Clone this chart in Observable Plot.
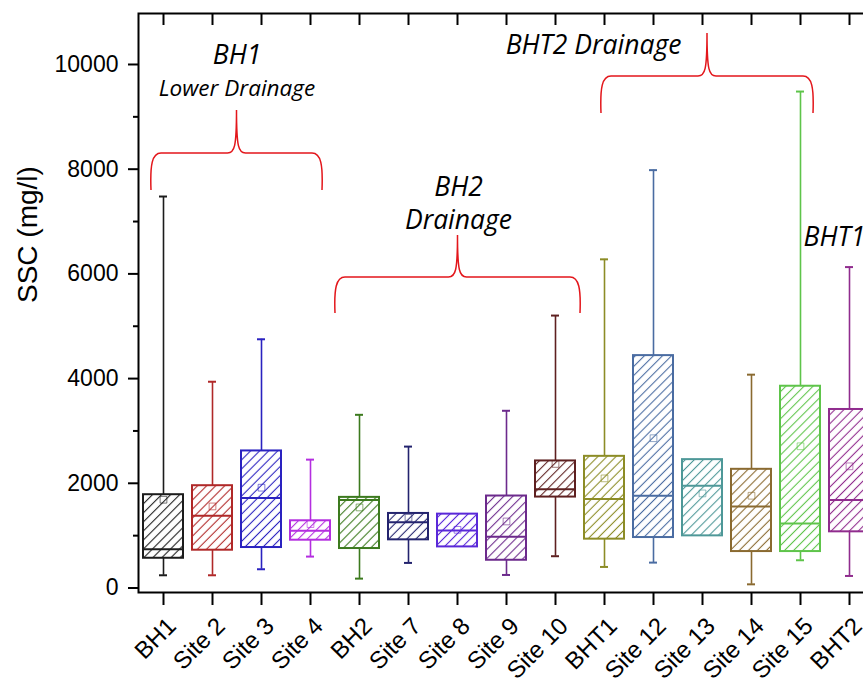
<!DOCTYPE html>
<html><head><meta charset="utf-8">
<script src="https://cdn.jsdelivr.net/npm/d3@7"></script>
<script src="https://cdn.jsdelivr.net/npm/@observablehq/plot@0.6"></script>
<style>
html,body{margin:0;padding:0;background:#fff;overflow:hidden}
#chart{width:863px;height:681px;overflow:hidden;position:relative}
#chart svg{overflow:hidden}
</style></head><body>
<svg id="defs" width="0" height="0" style="position:absolute"><defs></defs></svg>
<div id="chart"></div>
<script>
// ---- data ----
const sites = ["BH1","Site 2","Site 3","Site 4","BH2","Site 7","Site 8","Site 9","Site 10","BHT1","Site 12","Site 13","Site 14","Site 15","BHT2"];
const colors = ["#1c1c1c","#b02828","#2a22c0","#b42ee0","#3c7a1e","#23236e","#5a28d8","#6c2a8c","#5e2020","#8c8c26","#4a6ca2","#4e9898","#8a6a30","#5ec44a","#902c8e"];
const whiskerLow  = [243, 243, 358, 600, 179, 479, 785, 249, 607, 402, 485, 996, 70, 530, 230];
const q1          = [568, 722, 773, 913, 754, 920, 785, 530, 1737, 933, 964, 996, 696, 696, 1073];
const median      = [741, 1379, 1718, 1092, 1680, 1258, 1098, 977, 1884, 1699, 1762, 1954, 1558, 1232, 1680];
const q3          = [1782, 1954, 2618, 1284, 1731, 1424, 1411, 1757, 2427, 2515, 4439, 2452, 2267, 3854, 3410];
const whiskerHigh = [7478, 3940, 4751, 2452, 3308, 2701, 1411, 3385, 5204, 6278, 7982, 2452, 4075, 9483, 6130];
const mean        = [1686, 1558, 1916, 1220, 1539, 1341, 1111, 1271, 2370, 2094, 2861, 1807, 1762, 2707, 2324];

const yMajorTicks = [0, 2000, 4000, 6000, 8000, 10000];
const yMinorTicks = [1000, 3000, 5000, 7000, 9000];
const yDomain = [-86, 10974];

// group braces (from category, to category, values of end, bar and tip)
const braceFrom = ["BH1", "BH2", "BHT1"];
const braceTo   = ["Site 4", "Site 10", "Site 15"];
const braceEnd  = [7593, 5243, 9064];
const braceBar  = [8300, 5931, 9771];
const braceTip  = [9121, 6734, 10592];
const braceOffL = [-12, -24, -3];
const braceOffR = [12, 25, 13];

// annotations
const noteText = ["BH1", "Lower Drainage", "BH2", "Drainage", "BHT2 Drainage", "BHT1"];
const noteSite = ["Site 2", "Site 2", "Site 8", "Site 8", "BHT1", "Site 15"];
const noteY    = [10172, 9542, 7650, 7020, 10363, 6695];
const noteDx   = [24.5, 24.5, 1, 1, -11, 3];
const noteSize = [26.5, 22.5, 26.5, 26.5, 26.5, 26.5];
const noteAnchor = ["middle","middle","middle","middle","middle","start"];

// ---- hatch patterns ----
const ns = "http://www.w3.org/2000/svg";
const defs = document.querySelector("#defs defs");
colors.forEach((c, i) => {
  const p = document.createElementNS(ns, "pattern");
  p.setAttribute("id", "hatch" + i);
  p.setAttribute("patternUnits", "userSpaceOnUse");
  p.setAttribute("width", "6.4");
  p.setAttribute("height", "6.4");
  p.setAttribute("patternTransform", "rotate(45)");
  const l = document.createElementNS(ns, "line");
  l.setAttribute("x1", "3.2"); l.setAttribute("x2", "3.2");
  l.setAttribute("y1", "-1"); l.setAttribute("y2", "7.4");
  l.setAttribute("stroke", c); l.setAttribute("stroke-width", "1.1");
  p.appendChild(l);
  defs.appendChild(p);
});

const table = sites.map((site, i) => ({
  site, color: colors[i], hatch: `url(#hatch${i})`,
  lo: whiskerLow[i], q1: q1[i], med: median[i], q3: q3[i], hi: whiskerHigh[i], mean: mean[i]
}));
const upper = table.filter(d => d.hi > d.q3);
const lower = table.filter(d => d.lo < d.q1);
const notes = noteText.map((t, i) => ({t, site: noteSite[i], y: noteY[i], dx: noteDx[i], size: noteSize[i], anchor: noteAnchor[i]}));
const braces = braceFrom.map((f, i) => ({from: f, to: braceTo[i], end: braceEnd[i], bar: braceBar[i], tip: braceTip[i], offL: braceOffL[i], offR: braceOffR[i]}));

function braceMark(index, scales) {
  const g = document.createElementNS(ns, "g");
  const sx = scales.x, sy = scales.y;
  const bw = typeof sx.bandwidth === "function" ? sx.bandwidth() : 0;
  const cx = s => sx(s) + bw / 2;
  for (const b of braces) {
    const xL = cx(b.from) + b.offL, xR = cx(b.to) + b.offR, xm = (xL + xR) / 2;
    const yb = sy(b.end), yh = sy(b.bar), yt = sy(b.tip);
    const d = `M${xL},${yb} C${xL - 1},${yh + 12} ${xL + 1},${yh} ${xL + 10},${yh}`
      + ` L${xm - 9},${yh} C${xm - 2},${yh} ${xm},${yh - 6} ${xm},${yt}`
      + ` C${xm},${yh - 6} ${xm + 2},${yh} ${xm + 9},${yh}`
      + ` L${xR - 10},${yh} C${xR - 1},${yh} ${xR + 1},${yh + 12} ${xR},${yb}`;
    const p = document.createElementNS(ns, "path");
    p.setAttribute("d", d);
    p.setAttribute("fill", "none");
    p.setAttribute("stroke", "#e3161b");
    p.setAttribute("stroke-width", "1.5");
    g.appendChild(p);
  }
  return g;
}

const chart = Plot.plot({
  width: 863,
  height: 681,
  marginLeft: 138,
  marginRight: 0,
  marginTop: 13,
  marginBottom: 89,
  style: {fontFamily: "'Liberation Sans', Arial, sans-serif", background: "white", color: "black", overflow: "hidden"},
  x: {type: "band", domain: sites, range: [138.2, 873.2], paddingInner: 0.18, paddingOuter: 0.09, axis: null, label: null},
  y: {domain: yDomain, axis: null, label: null},
  color: {type: "identity"},
  marks: [
    Plot.frame({stroke: "black", strokeWidth: 2, insetRight: -10}),
    Plot.ruleX(sites, {x: d => d, insetBottom: 567, stroke: "black", strokeWidth: 2}),
    Plot.axisY({ticks: yMajorTicks, tickSize: 10, tickPadding: 10, tickFormat: "d", fontSize: 23, strokeWidth: 2, label: null}),
    Plot.axisY({ticks: yMinorTicks, tickSize: 5, tickFormat: () => "", strokeWidth: 2, label: null}),
    Plot.axisX({anchor: "bottom", tickSize: 13, tickFormat: () => "", strokeWidth: 2, label: null}),
    Plot.text(sites, {x: d => d, frameAnchor: "bottom", rotate: -45, textAnchor: "end", dx: 14, dy: 35, fontSize: 24}),
    Plot.text(["SSC (mg/l)"], {frameAnchor: "left", rotate: -90, dx: -110, fontSize: 28}),
    Plot.ruleX(upper, {x: "site", y1: "q3", y2: "hi", stroke: "color", strokeWidth: 1.6}),
    Plot.ruleX(lower, {x: "site", y1: "lo", y2: "q1", stroke: "color", strokeWidth: 1.6}),
    Plot.tickY(upper, {x: "site", y: "hi", stroke: "color", strokeWidth: 2, insetLeft: 16, insetRight: 16}),
    Plot.tickY(lower, {x: "site", y: "lo", stroke: "color", strokeWidth: 2, insetLeft: 16, insetRight: 16}),
    Plot.barY(table, {x: "site", y1: "q1", y2: "q3", fill: "hatch", stroke: "color", strokeWidth: 2}),
    Plot.tickY(table, {x: "site", y: "med", stroke: "color", strokeWidth: 2}),
    Plot.dot(table, {x: "site", y: "mean", symbol: "square", r: 3.8, stroke: "color", strokeOpacity: 0.6, strokeWidth: 1, fill: "none"}),
    braceMark,
    ...notes.map(n => Plot.text([n], {x: "site", y: "y", text: "t", dx: n.dx, fontSize: n.size, textAnchor: n.anchor,
      fontFamily: "'Open Sans', sans-serif", fontStyle: "italic", fill: "black"}))
  ]
});
document.getElementById("chart").appendChild(chart);
</script></body></html>
